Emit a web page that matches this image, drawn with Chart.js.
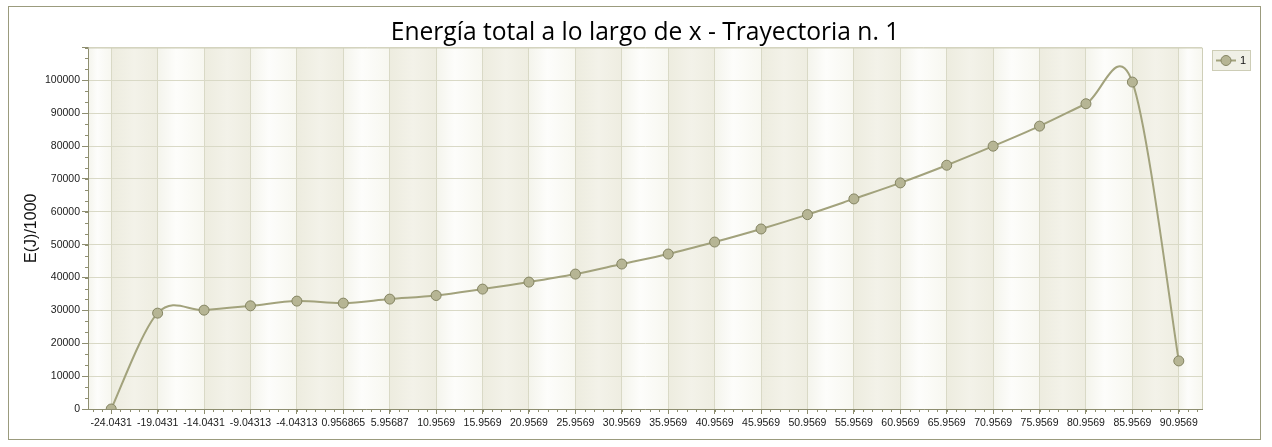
<!DOCTYPE html>
<html>
<head>
<meta charset="utf-8">
<title>Energía total a lo largo de x</title>
<script src="https://cdn.jsdelivr.net/npm/chart.js@4.4.1/dist/chart.umd.min.js"></script>
<style>
  html, body { margin: 0; padding: 0; background: #fff; }
  #wrap { width: 1272px; height: 447px; }
</style>
</head>
<body>
<div id="wrap"><canvas id="energyChart" width="1272" height="447"></canvas></div>
<script>
'use strict';

// x positions along the trajectory (category labels as shown on the axis)
var categories = [
  '-24.0431', '-19.0431', '-14.0431', '-9.04313', '-4.04313', '0.956865',
  '5.95687', '10.9569', '15.9569', '20.9569', '25.9569', '30.9569',
  '35.9569', '40.9569', '45.9569', '50.9569', '55.9569', '60.9569',
  '65.9569', '70.9569', '75.9569', '80.9569', '85.9569', '90.9569'
];

// total energy E(J)/1000
var energy = [
  0, 29170, 30080, 31400, 32830, 32220,
  33440, 34540, 36490, 38620, 41060, 44110,
  47160, 50810, 54780, 59150, 63930, 68800,
  74180, 79980, 86080, 92890, 99490, 14630
];

var seriesLabel = '1';
var yMax = 110000;
var yStep = 10000;
var yLastLabel = 100000;

var olive = '#8e8e70';
var gridColor = '#d9d9c6';
var tickFont = { family: '"Liberation Sans", Arial, sans-serif', size: 10.5 };

// the original curve is a plain Catmull-Rom spline, so swap chart.js's
// distance-weighted control points for uniform ones before drawing
var splinePlugin = {
  id: 'spline',
  beforeDatasetDraw: function(chart, args) {
    var meta = args.meta;
    var line = meta.dataset;
    line.updateControlPoints(chart.chartArea, 'x');
    var pts = meta.data;
    var n = pts.length;
    for (var i = 0; i < n; i++) {
      var prev = pts[Math.max(i - 1, 0)];
      var next = pts[Math.min(i + 1, n - 1)];
      var dx = (next.x - prev.x) / 6;
      var dy = (next.y - prev.y) / 6;
      pts[i].cp1x = pts[i].x - dx;
      pts[i].cp1y = pts[i].y - dy;
      pts[i].cp2x = pts[i].x + dx;
      pts[i].cp2y = pts[i].y + dy;
    }
    line._path = undefined;
  }
};

// alternating shaded bands between the category lines, plus the extras
var bandsPlugin = {
  id: 'bands',
  beforeDraw: function(chart) {
    var ctx = chart.ctx;
    var area = chart.chartArea;
    var x = chart.scales.x;
    var edges = [area.left];
    for (var i = 0; i < categories.length; i++) {
      edges.push(x.getPixelForValue(i));
    }
    edges.push(area.right);
    ctx.save();
    for (var j = 0; j < edges.length - 1; j++) {
      var x0 = edges[j], x1 = edges[j + 1];
      var dark = (j >= 1 && j <= categories.length - 1 && (j - 1) % 2 === 0);
      var g = ctx.createLinearGradient(x0, 0, x1, 0);
      if (dark) {
        g.addColorStop(0, '#edecdf');
        g.addColorStop(0.5, '#f3f2e9');
        g.addColorStop(1, '#eeede1');
      } else {
        g.addColorStop(0, '#f4f4ec');
        g.addColorStop(0.4, '#fdfdfb');
        g.addColorStop(1, '#f7f7f0');
      }
      ctx.fillStyle = g;
      ctx.fillRect(x0, area.top, x1 - x0, area.bottom - area.top);
    }
    ctx.restore();
  },
  afterDraw: function(chart) {
    var ctx = chart.ctx;
    var area = chart.chartArea;
    var x = chart.scales.x;
    var y = chart.scales.y;
    ctx.save();

    // plot frame on top and right
    ctx.strokeStyle = '#cfcfb8';
    ctx.lineWidth = 1;
    ctx.beginPath();
    ctx.moveTo(area.left, area.top + 0.5);
    ctx.lineTo(area.right + 0.5, area.top + 0.5);
    ctx.lineTo(area.right + 0.5, area.bottom);
    ctx.stroke();

    // minor ticks
    ctx.strokeStyle = olive;
    ctx.beginPath();
    var minorY = yStep / 3;
    for (var v = 0; v <= yMax + 1; v += minorY) {
      var py = Math.round(y.getPixelForValue(v)) + 0.5;
      ctx.moveTo(area.left - 3, py);
      ctx.lineTo(area.left, py);
    }
    var step = x.getPixelForValue(1) - x.getPixelForValue(0);
    var px = x.getPixelForValue(0);
    while (px - step / 5 >= area.left) { px -= step / 5; }
    for (; px <= area.right; px += step / 5) {
      var rx = Math.round(px) + 0.5;
      ctx.moveTo(rx, area.bottom);
      ctx.lineTo(rx, area.bottom + 3);
    }
    ctx.stroke();

    // outer border
    ctx.strokeStyle = '#9b9b7d';
    ctx.strokeRect(8.5, 6.5, 1252, 433);

    // legend box
    var lx = 1212, ly = 50;
    ctx.fillStyle = '#f0f0e6';
    ctx.fillRect(lx, ly, 38, 20);
    ctx.strokeStyle = '#cdcdb6';
    ctx.strokeRect(lx + 0.5, ly + 0.5, 38, 20);
    ctx.strokeStyle = '#a2a27c';
    ctx.lineWidth = 2;
    ctx.beginPath();
    ctx.moveTo(lx + 4, ly + 10.5);
    ctx.lineTo(lx + 24, ly + 10.5);
    ctx.stroke();
    ctx.lineWidth = 1;
    ctx.beginPath();
    ctx.arc(lx + 14, ly + 10.5, 5, 0, Math.PI * 2);
    ctx.fillStyle = '#b6b594';
    ctx.fill();
    ctx.strokeStyle = '#858563';
    ctx.stroke();
    ctx.fillStyle = '#111';
    ctx.font = '11px "Liberation Sans", Arial, sans-serif';
    ctx.textBaseline = 'middle';
    ctx.fillText(chart.data.datasets[0].label, lx + 28, ly + 11);
    ctx.restore();
  }
};

var ctx = document.getElementById('energyChart').getContext('2d');

var chart = new Chart(ctx, {
  type: 'line',
  data: {
    labels: categories,
    datasets: [{
      label: seriesLabel,
      data: energy,
      borderColor: '#a2a27c',
      borderWidth: 2,
      tension: 0.5,
      pointRadius: 5,
      pointHoverRadius: 5,
      pointBackgroundColor: '#b6b594',
      pointBorderColor: '#858563',
      pointBorderWidth: 1,
      fill: false,
      clip: 0
    }]
  },
  options: {
    responsive: false,
    animation: false,
    events: [],
    layout: { padding: { left: 8, right: 70, top: 6, bottom: 7 } },
    plugins: {
      legend: { display: false },
      tooltip: { enabled: false },
      title: {
        display: true,
        fullSize: false,
        text: 'Energía total a lo largo de x - Trayectoria n. 1',
        color: '#000',
        font: { family: '"Open Sans", sans-serif', size: 24.6, weight: 'normal' },
        padding: { top: 12, bottom: 0 }
      }
    },
    scales: {
      x: {
        type: 'category',
        offset: true,
        grid: {
          offset: false,
          color: gridColor,
          tickColor: olive,
          tickLength: 5
        },
        border: { color: olive },
        ticks: {
          autoSkip: false,
          maxRotation: 0,
          minRotation: 0,
          padding: 3,
          color: '#1a1a1a',
          font: tickFont
        },
        afterFit: function(scale) { scale.height = 31; }
      },
      y: {
        min: 0,
        max: yMax,
        grid: {
          color: gridColor,
          tickColor: olive,
          tickLength: 6
        },
        border: { color: olive },
        ticks: {
          stepSize: yStep,
          padding: 2,
          color: '#1a1a1a',
          font: tickFont,
          callback: function(value) {
            return value > yLastLabel ? '' : String(value);
          }
        },
        title: {
          display: true,
          text: 'E(J)/1000',
          color: '#111',
          font: { family: '"Liberation Sans", Arial, sans-serif', size: 16 },
          padding: { top: 14, bottom: 0 }
        },
        afterFit: function(scale) { scale.width = 80; }
      }
    }
  },
  plugins: [bandsPlugin, splinePlugin]
});
</script>
</body>
</html>
